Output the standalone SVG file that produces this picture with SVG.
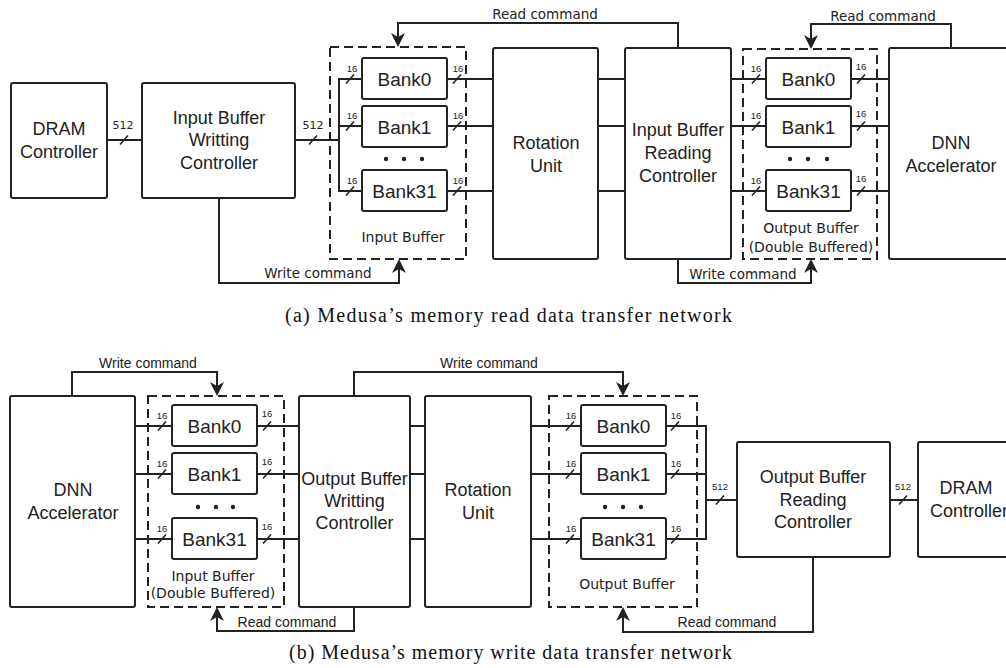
<svg xmlns="http://www.w3.org/2000/svg" width="1006" height="668" viewBox="0 0 1006 668">
<style>
.box{fill:#fff;stroke:#222;stroke-width:2}
.dash{fill:none;stroke:#222;stroke-width:2;stroke-dasharray:9 5}
.wire{fill:none;stroke:#222;stroke-width:2}
.cmd{fill:none;stroke:#222;stroke-width:2;marker-end:url(#ah)}
.sl{stroke:#222;stroke-width:1.6}
.dot{fill:#222}
text{fill:#222;text-anchor:middle}
.lbl{font-family:"Liberation Sans",Arial,sans-serif;font-size:18px}
.bank{font-family:"Liberation Sans",Arial,sans-serif;font-size:19px}
.ca{font-family:"DejaVu Sans",sans-serif;font-size:13.5px}
.cb{font-family:"Liberation Sans",Arial,sans-serif;font-size:14px}
.buf{font-family:"DejaVu Sans",sans-serif;font-size:14px}
.w{font-family:"Liberation Sans",Arial,sans-serif;font-size:9.5px}
.wa{font-family:"DejaVu Sans",sans-serif;font-size:11px}
.cap{font-family:"Liberation Serif","Times New Roman",serif;font-size:20px;fill:#111}
</style>
<defs>
<marker id="ah" markerUnits="userSpaceOnUse" markerWidth="14" markerHeight="14" viewBox="0 0 14 14" refX="10" refY="7" orient="auto">
<path d="M0,0 L14,7 L0,14 L4,7 z" fill="#222"/>
</marker>
</defs>

<!-- ===== (a) ===== -->
<g id="connectors-a">
<path class="wire" d="M107,140 H142"/>
<path class="wire" d="M295,140 H339"/>
<path class="wire" d="M362,79 H339 V191 H362 M339,126 H362"/>
<path class="wire" d="M447,79 H493 M447,126 H493 M447,191 H493"/>
<path class="wire" d="M598,79 H625 M598,126 H625 M598,191 H625"/>
<path class="wire" d="M731,79 H766 M731,126 H766 M731,191 H766"/>
<path class="wire" d="M851,79 H889 M851,126 H889 M851,191 H889"/>
<path class="cmd" d="M678,48 V23 H398 V43"/>
<path class="cmd" d="M219,198 V283 H399 V263"/>
<path class="cmd" d="M951,48 V24 H811 V45"/>
<path class="cmd" d="M678,259 V283 H811 V263"/>
<g class="sl">
<line x1="120" y1="144.5" x2="128" y2="135.5"/>
<line x1="309" y1="144.5" x2="317" y2="135.5"/>
<line x1="346" y1="83.5" x2="354" y2="74.5"/>
<line x1="346" y1="130.5" x2="354" y2="121.5"/>
<line x1="346" y1="195.5" x2="354" y2="186.5"/>
<line x1="453" y1="83.5" x2="461" y2="74.5"/>
<line x1="453" y1="130.5" x2="461" y2="121.5"/>
<line x1="453" y1="195.5" x2="461" y2="186.5"/>
<line x1="752" y1="83.5" x2="760" y2="74.5"/>
<line x1="752" y1="130.5" x2="760" y2="121.5"/>
<line x1="752" y1="195.5" x2="760" y2="186.5"/>
<line x1="857" y1="83.5" x2="865" y2="74.5"/>
<line x1="857" y1="130.5" x2="865" y2="121.5"/>
<line x1="857" y1="195.5" x2="865" y2="186.5"/>
</g>
<text class="wa" x="123" y="129">512</text>
<text class="wa" x="313" y="129">512</text>
<text class="w" x="352" y="72">16</text>
<text class="w" x="352" y="119">16</text>
<text class="w" x="352" y="184">16</text>
<text class="w" x="458" y="72">16</text>
<text class="w" x="458" y="119">16</text>
<text class="w" x="458" y="184">16</text>
<text class="w" x="756" y="72">16</text>
<text class="w" x="756" y="119">16</text>
<text class="w" x="756" y="184">16</text>
<text class="w" x="861" y="70">16</text>
<text class="w" x="861" y="117">16</text>
<text class="w" x="861" y="182">16</text>
<text class="ca" x="545" y="19">Read command</text>
<text class="ca" x="883" y="21">Read command</text>
<text class="ca" x="318" y="278">Write command</text>
<text class="ca" x="743" y="279">Write command</text>
</g>

<g id="dram-a">
<rect class="box" x="11" y="83" width="96" height="115" rx="2"/>
<text class="lbl" x="59" y="135">DRAM</text>
<text class="lbl" x="59" y="158">Controller</text>
</g>
<g id="ibwc-a">
<rect class="box" x="142" y="83" width="153" height="115" rx="2"/>
<text class="lbl" x="219" y="124">Input Buffer</text>
<text class="lbl" x="219" y="146">Writting</text>
<text class="lbl" x="219" y="169">Controller</text>
</g>
<g id="input-buffer-a">
<rect class="dash" x="330" y="47" width="136" height="212"/>
<text class="buf" x="403" y="242">Input Buffer</text>
</g>
<g id="in-bank0-a"><rect class="box" x="362" y="58" width="85" height="41" rx="2"/><text class="bank" x="404.5" y="85.5">Bank0</text></g>
<g id="in-bank1-a"><rect class="box" x="362" y="106" width="85" height="41" rx="2"/><text class="bank" x="404.5" y="133.5">Bank1</text></g>
<g id="in-bank31-a"><rect class="box" x="362" y="170" width="85" height="41" rx="2"/><text class="bank" x="404.5" y="197.5">Bank31</text></g>
<g id="in-dots-a"><circle class="dot" cx="386" cy="159" r="2.2"/><circle class="dot" cx="404" cy="159" r="2.2"/><circle class="dot" cx="422" cy="159" r="2.2"/></g>
<g id="rotation-a">
<rect class="box" x="493" y="48" width="105" height="211" rx="2"/>
<text class="lbl" x="546" y="148.5">Rotation</text>
<text class="lbl" x="546" y="171.5">Unit</text>
</g>
<g id="ibrc-a">
<rect class="box" x="625" y="48" width="106" height="211" rx="2"/>
<text class="lbl" x="678" y="136">Input Buffer</text>
<text class="lbl" x="678" y="159">Reading</text>
<text class="lbl" x="678" y="182">Controller</text>
</g>
<g id="output-buffer-a">
<rect class="dash" x="743" y="49" width="134" height="210"/>
<text class="buf" x="811" y="233">Output Buffer</text>
<text class="buf" x="811" y="252">(Double Buffered)</text>
</g>
<g id="out-bank0-a"><rect class="box" x="766" y="58" width="85" height="41" rx="2"/><text class="bank" x="808.5" y="85.5">Bank0</text></g>
<g id="out-bank1-a"><rect class="box" x="766" y="106" width="85" height="41" rx="2"/><text class="bank" x="808.5" y="133.5">Bank1</text></g>
<g id="out-bank31-a"><rect class="box" x="766" y="170" width="85" height="41" rx="2"/><text class="bank" x="808.5" y="197.5">Bank31</text></g>
<g id="out-dots-a"><circle class="dot" cx="790" cy="159" r="2.2"/><circle class="dot" cx="808" cy="159" r="2.2"/><circle class="dot" cx="827" cy="159" r="2.2"/></g>
<g id="dnn-a">
<rect class="box" x="889" y="48" width="150" height="211" rx="2"/>
<text class="lbl" x="951" y="148.5">DNN</text>
<text class="lbl" x="951" y="171.5">Accelerator</text>
</g>
<text class="cap" x="508.5" y="322" textLength="447" lengthAdjust="spacing">(a) Medusa’s memory read data transfer network</text>

<!-- ===== (b) ===== -->
<g id="connectors-b">
<path class="wire" d="M135,426 H172 M135,474 H172 M135,539 H172"/>
<path class="wire" d="M257,426 H299 M257,474 H299 M257,539 H299"/>
<path class="wire" d="M410,426 H425 M410,474 H425 M410,539 H425"/>
<path class="wire" d="M531,426 H581 M531,474 H581 M531,539 H581"/>
<path class="wire" d="M666,426 H706 V539 H666 M666,474 H706 M706,500 H737"/>
<path class="wire" d="M890,500 H918"/>
<path class="cmd" d="M72,396 V372 H217 V392"/>
<path class="cmd" d="M354,607 V631 H217 V611"/>
<path class="cmd" d="M354,396 V372 H623 V392"/>
<path class="cmd" d="M813,557 V632 H623 V611"/>
<g class="sl">
<line x1="158" y1="430.5" x2="166" y2="421.5"/>
<line x1="158" y1="478.5" x2="166" y2="469.5"/>
<line x1="158" y1="543.5" x2="166" y2="534.5"/>
<line x1="263" y1="430.5" x2="271" y2="421.5"/>
<line x1="263" y1="478.5" x2="271" y2="469.5"/>
<line x1="263" y1="543.5" x2="271" y2="534.5"/>
<line x1="566" y1="430.5" x2="574" y2="421.5"/>
<line x1="566" y1="478.5" x2="574" y2="469.5"/>
<line x1="566" y1="543.5" x2="574" y2="534.5"/>
<line x1="671" y1="430.5" x2="679" y2="421.5"/>
<line x1="671" y1="478.5" x2="679" y2="469.5"/>
<line x1="671" y1="543.5" x2="679" y2="534.5"/>
<line x1="716" y1="504.5" x2="724" y2="495.5"/>
<line x1="899" y1="504.5" x2="907" y2="495.5"/>
</g>
<text class="w" x="162" y="419">16</text>
<text class="w" x="162" y="467">16</text>
<text class="w" x="162" y="532">16</text>
<text class="w" x="267" y="417">16</text>
<text class="w" x="267" y="465">16</text>
<text class="w" x="267" y="530">16</text>
<text class="w" x="571" y="419">16</text>
<text class="w" x="571" y="467">16</text>
<text class="w" x="571" y="532">16</text>
<text class="w" x="676" y="419">16</text>
<text class="w" x="676" y="467">16</text>
<text class="w" x="676" y="532">16</text>
<text class="w" x="720" y="490">512</text>
<text class="w" x="903" y="490">512</text>
<text class="cb" x="148" y="368">Write command</text>
<text class="cb" x="489" y="368">Write command</text>
<text class="cb" x="287" y="627">Read command</text>
<text class="cb" x="727" y="627">Read command</text>
</g>

<g id="dnn-b">
<rect class="box" x="10" y="396" width="125" height="211" rx="2"/>
<text class="lbl" x="73" y="495.5">DNN</text>
<text class="lbl" x="73" y="518.5">Accelerator</text>
</g>
<g id="input-buffer-b">
<rect class="dash" x="148" y="396" width="136" height="211"/>
<text class="buf" x="213" y="581">Input Buffer</text>
<text class="buf" x="213" y="598">(Double Buffered)</text>
</g>
<g id="in-bank0-b"><rect class="box" x="172" y="405" width="85" height="41" rx="2"/><text class="bank" x="214.5" y="432.5">Bank0</text></g>
<g id="in-bank1-b"><rect class="box" x="172" y="453" width="85" height="41" rx="2"/><text class="bank" x="214.5" y="480.5">Bank1</text></g>
<g id="in-bank31-b"><rect class="box" x="172" y="518" width="85" height="41" rx="2"/><text class="bank" x="214.5" y="545.5">Bank31</text></g>
<g id="in-dots-b"><circle class="dot" cx="198" cy="507" r="2.2"/><circle class="dot" cx="216" cy="507" r="2.2"/><circle class="dot" cx="233" cy="507" r="2.2"/></g>
<g id="obwc-b">
<rect class="box" x="299" y="396" width="111" height="211" rx="2"/>
<text class="lbl" x="354.5" y="485">Output Buffer</text>
<text class="lbl" x="354.5" y="507">Writting</text>
<text class="lbl" x="354.5" y="528.5">Controller</text>
</g>
<g id="rotation-b">
<rect class="box" x="425" y="396" width="106" height="211" rx="2"/>
<text class="lbl" x="478" y="495.5">Rotation</text>
<text class="lbl" x="478" y="518.5">Unit</text>
</g>
<g id="output-buffer-b">
<rect class="dash" x="549" y="396" width="148" height="211"/>
<text class="buf" x="627" y="589">Output Buffer</text>
</g>
<g id="out-bank0-b"><rect class="box" x="581" y="405" width="85" height="41" rx="2"/><text class="bank" x="623.5" y="432.5">Bank0</text></g>
<g id="out-bank1-b"><rect class="box" x="581" y="453" width="85" height="41" rx="2"/><text class="bank" x="623.5" y="480.5">Bank1</text></g>
<g id="out-bank31-b"><rect class="box" x="581" y="518" width="85" height="41" rx="2"/><text class="bank" x="623.5" y="545.5">Bank31</text></g>
<g id="out-dots-b"><circle class="dot" cx="605" cy="507" r="2.2"/><circle class="dot" cx="623" cy="507" r="2.2"/><circle class="dot" cx="641" cy="507" r="2.2"/></g>
<g id="obrc-b">
<rect class="box" x="737" y="442" width="153" height="115" rx="2"/>
<text class="lbl" x="813" y="482.5">Output Buffer</text>
<text class="lbl" x="813" y="505.5">Reading</text>
<text class="lbl" x="813" y="527.5">Controller</text>
</g>
<g id="dram-b">
<rect class="box" x="918" y="442" width="122" height="115" rx="2"/>
<text class="lbl" x="966" y="493.5">DRAM</text>
<text class="lbl" x="969" y="516.5">Controller</text>
</g>
<text class="cap" x="510.5" y="659" textLength="443" lengthAdjust="spacing">(b) Medusa’s memory write data transfer network</text>
</svg>
